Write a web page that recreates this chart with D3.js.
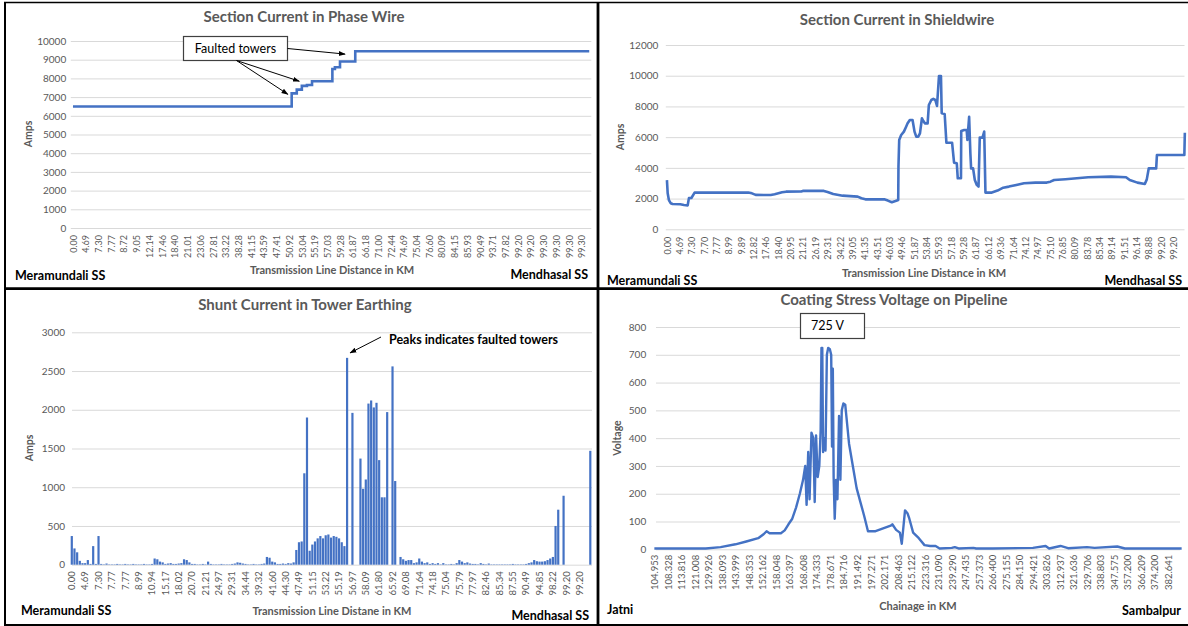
<!DOCTYPE html>
<html>
<head>
<meta charset="utf-8">
<script src="https://cdn.jsdelivr.net/npm/d3@7"></script>
<style>
  html, body { margin: 0; padding: 0; background: #ffffff; }
  svg { display: block; font-family: Lato, "Open Sans", "Liberation Sans", sans-serif; }
</style>
</head>
<body>
<svg id="fig" width="1188" height="626"></svg>
<script>
// ---------------- data ----------------
// Section current in phase wire: step breakpoints [tower index, amps]
const phaseTicks = ["0.00","4.69","7.30","7.77","8.72","9.05","12.14","17.46","18.40","21.01","23.06","27.81","33.22","38.28","41.15","43.59","47.41","50.92","53.04","55.19","57.03","59.28","61.87","66.18","71.00","72.44","74.69","75.04","76.60","80.09","84.15","85.93","90.49","93.71","97.82","99.20","99.20","99.30","99.30","99.30","99.30"];
const phaseSteps = [[0,6500],[86,7200],[88,7400],[90,7600],[92,7650],[94,7850],[102,8500],[103,8600],[105,8900],[111,9450],[203,9450]];

// Section current in shieldwire: [tower index, amps]
const shieldTicks = ["0.00","4.69","7.30","7.70","7.77","8.99","9.89","12.82","17.46","18.40","20.95","21.21","26.19","29.31","34.22","39.05","41.35","43.51","46.03","49.46","51.87","53.84","55.93","57.18","59.28","61.87","66.12","69.36","71.64","74.12","74.97","75.10","76.85","80.09","83.78","85.34","89.14","91.51","96.14","98.88","99.20","99.20"];
const shieldAmps = [[0,3200],[0.3,2350],[0.8,1900],[1.5,1700],[2.3,1650],[5.4,1630],[6.9,1580],[8.4,1560],[8.9,2030],[9.9,2040],[11.2,2390],[32.9,2400],[34.4,2340],[35.9,2240],[42,2230],[43.6,2280],[46.6,2410],[48.2,2450],[54.3,2460],[55,2500],[63.5,2500],[65,2430],[67.3,2300],[71.1,2190],[77.2,2130],[78.7,2020],[80.3,1950],[87.9,1950],[89.4,1870],[91,1760],[92.5,1840],[93.6,1910],[93.7,4080],[94,5820],[94.8,6140],[95.9,6360],[96.8,6680],[97.4,6900],[98.3,7120],[99.4,7120],[100.2,6360],[100.9,6030],[101.7,6030],[102.4,6250],[103.2,7230],[103.7,7070],[104.4,6900],[105.5,6900],[106,8090],[107,8420],[107.8,8490],[108.6,8420],[109.3,8030],[110.1,9980],[110.9,9980],[111.2,7550],[112.4,7510],[113.1,5640],[115.4,5640],[116.2,4340],[117.3,4300],[117.7,3320],[119,3320],[119.1,6400],[120.3,6470],[121.3,6470],[121.6,5820],[122.3,7330],[122.8,4950],[123.1,3970],[123.9,3970],[124.6,3210],[125.4,2890],[126.1,2780],[126.6,5970],[127.7,5970],[128.4,6360],[128.9,2390],[131.5,2390],[133.8,2520],[136.1,2710],[138.4,2780],[141.4,2890],[144.5,3000],[149.1,3040],[153.7,3040],[155.2,3100],[156.7,3210],[161.3,3260],[165.9,3320],[170.5,3390],[179.7,3430],[185.8,3390],[187.3,3210],[190.4,3040],[193.4,2950],[194.2,3250],[195,3970],[198,3970],[198.3,4840],[209.4,4840],[209.6,6290]];

// Shunt current in tower earthing: one value per tower (amps)
const shuntTicks = ["0.00","4.69","7.30","7.77","7.77","8.99","10.94","15.17","18.02","20.70","21.21","24.97","29.31","34.44","39.32","41.60","44.30","47.49","51.15","53.22","55.19","56.97","58.09","61.80","65.92","69.08","71.64","74.18","75.04","75.79","77.97","82.46","85.34","87.55","90.49","94.85","98.22","99.20","99.20"];
const shuntAmps = [
  370,210,160,50,20,20,60,10,240,10, 370,10,5,15,5,5,5,10,5,5,
  10,5,5,10,5,5,5,10,5,5, 10,80,70,40,30,10,15,20,10,10,
  15,20,70,60,30,10,10,5,5,10, 5,40,10,5,5,5,10,5,5,5,
  10,15,30,25,15,10,5,5,10,5, 5,10,15,100,90,40,30,10,10,15,
  10,20,15,30,190,290,300,1180,1900,180, 260,300,340,370,340,380,390,350,370,360,
  340,290,240,2670,0,1960,0,0,1370,980, 1100,2080,2120,2030,2090,1350,870,870,1970,0,
  2560,1080,0,100,70,50,60,60,20,30, 80,40,20,30,10,20,10,20,5,20,
  5,5,10,5,20,60,40,20,30,15, 10,10,5,20,10,5,15,5,5,5,
  5,5,5,5,5,10,5,5,5,5, 10,20,30,60,45,40,40,45,60,80,
  100,500,710,0,890,0,0,0,0,0, 0,0,0,0,1470
];

// Coating stress voltage on pipeline: [chainage index, volts]
const pipeTicks = ["104.953","108.328","113.816","121.008","129.926","138.093","143.999","148.353","152.162","158.048","163.397","168.608","174.333","178.671","184.716","191.492","197.271","202.171","208.463","215.122","223.316","231.090","239.290","247.435","257.373","266.400","275.155","284.150","294.421","303.826","312.937","321.636","329.706","338.803","347.575","357.200","366.209","374.200","382.641"];
const pipeVolts = [[0,3],[19,3],[24.5,8],[30,18],[34,28],[38.4,40],[40.5,55],[41.5,65],[42.6,58],[46.8,58],[48.2,68],[49.6,90],[51,110],[52.4,150],[53.8,200],[55,250],[55.8,300],[56.3,160],[56.9,350],[57.4,180],[58.1,420],[58.8,400],[59.3,170],[59.8,410],[60.4,260],[61,300],[61.5,430],[61.8,725],[62.1,725],[62.4,350],[62.9,400],[63.3,355],[63.8,700],[64.3,725],[64.9,720],[65.4,700],[65.7,370],[66,650],[66.3,260],[66.7,110],[67.2,250],[67.7,180],[68.3,480],[68.8,250],[69.3,500],[69.9,525],[70.6,520],[71.3,450],[72,380],[73.4,300],[74.8,220],[76.2,170],[77.6,120],[79,65],[81.8,65],[84.6,75],[87.4,85],[88,90],[89.4,70],[90.8,60],[91.5,20],[92.7,140],[93.6,130],[94.3,110],[95.7,60],[97.8,40],[99.9,15],[102,12],[104,12],[105.5,3],[110,5],[111.1,8],[112.5,3],[118,5],[119,3],[125,3],[140,5],[144.7,12],[146,3],[150.2,12],[153,4],[160,8],[162.8,5],[171.2,10],[174,3],[195,3]];

// ---------------- styling ----------------
const BLUE = "#4472C4";
const GRID = "#d9d9d9";
const GREY = "#595959";
const LABEL_EVERY = 5;

const svg = d3.select("#fig");

const defs = svg.append("defs");
defs.append("marker")
  .attr("id", "arrowhead")
  .attr("viewBox", "0 0 10 10")
  .attr("refX", 9).attr("refY", 5)
  .attr("markerWidth", 7).attr("markerHeight", 7)
  .attr("orient", "auto-start-reverse")
  .append("path").attr("d", "M0,1.5 L10,5 L0,8.5 Z").attr("fill", "#000");

// Draws the shared furniture of one chart panel and returns its scales.
function panel(o) {
  const g = svg.append("g");

  const x = o.band
    ? d3.scaleBand().domain(d3.range(o.n)).range([o.left, o.right]).paddingInner(0.18)
    : d3.scaleLinear().domain([-0.5, o.n - 0.5]).range([o.left, o.right]);
  const y = d3.scaleLinear().domain([0, o.yMax]).range([o.y0, o.y1]);

  // value axis with horizontal gridlines
  const yAxis = d3.axisLeft(y)
    .tickValues(d3.range(0, o.yMax + 1, o.yStep))
    .tickSize(-(o.gridR - o.gridL))
    .tickPadding(o.yPad)
    .tickFormat(d3.format("d"));
  const ya = g.append("g").attr("transform", `translate(${o.gridL},0)`).call(yAxis);
  ya.select(".domain").remove();
  ya.selectAll(".tick line").attr("stroke", GRID).attr("stroke-width", 1);
  ya.selectAll(".tick text").attr("fill", GREY).attr("font-size", o.yFont).attr("font-family", "Lato, sans-serif");

  // category axis, one label every few towers, rotated
  const xAxis = d3.axisBottom(x)
    .tickValues(d3.range(o.ticks.length).map(i => i * LABEL_EVERY))
    .tickFormat(v => o.ticks[v / LABEL_EVERY])
    .tickSize(0);
  const xa = g.append("g").attr("transform", `translate(0,${o.y0})`).call(xAxis);
  xa.select(".domain").remove();
  xa.selectAll(".tick text")
    .attr("transform", "rotate(-90)")
    .attr("text-anchor", "end")
    .attr("x", -o.xGap).attr("y", 0).attr("dy", "0.35em")
    .attr("fill", GREY).attr("font-size", o.xFont).attr("font-family", "Lato, sans-serif");

  // titles
  g.append("text").attr("x", o.titleX).attr("y", o.titleY).attr("dy", "0.35em")
    .attr("text-anchor", "middle").attr("font-size", 15).attr("font-weight", 700)
    .attr("fill", GREY).text(o.title);
  g.append("text").attr("transform", `translate(${o.yTitleX},${o.yTitleY}) rotate(-90)`)
    .attr("dy", "0.35em").attr("text-anchor", "middle").attr("font-size", 10.5)
    .attr("font-weight", 700).attr("fill", GREY).text(o.yTitle);
  g.append("text").attr("x", o.xTitleX).attr("y", o.xTitleY).attr("dy", "0.35em")
    .attr("text-anchor", "middle").attr("font-size", 11).attr("font-weight", 700)
    .attr("fill", GREY).text(o.xTitle);

  // end-point names
  g.append("text").attr("x", o.startX).attr("y", o.startY).attr("dy", "0.35em")
    .attr("font-size", 12.5).attr("font-weight", 700).attr("fill", "#000").text(o.start);
  g.append("text").attr("x", o.endX).attr("y", o.endY).attr("dy", "0.35em")
    .attr("text-anchor", "end").attr("font-size", 12.5).attr("font-weight", 700)
    .attr("fill", "#000").text(o.end);

  return { g, x, y };
}

// ---------------- top left: phase wire ----------------
{
  const p = panel({
    n: 204, left: 71.7, right: 590.5, gridL: 70.8, gridR: 591.3,
    y0: 228, y1: 41, yMax: 10000, yStep: 1000, yPad: 4.6, yFont: 10,
    ticks: phaseTicks, xGap: 7, xFont: 9,
    title: "Section Current in Phase Wire", titleX: 304, titleY: 17,
    yTitle: "Amps", yTitleX: 28, yTitleY: 134,
    xTitle: "Transmission Line Distance in KM", xTitleX: 332, xTitleY: 270,
    start: "Meramundali SS", startX: 15, startY: 276,
    end: "Mendhasal SS", endX: 588, endY: 275
  });
  const line = d3.line().x(d => p.x(d[0])).y(d => p.y(d[1])).curve(d3.curveStepAfter);
  p.g.append("path").datum(phaseSteps).attr("d", line)
    .attr("fill", "none").attr("stroke", BLUE).attr("stroke-width", 2.6);

  // callout pointing at the faulted-tower steps
  const bx = 183.5, by = 36.5, bw = 104, bh = 24;
  p.g.append("rect").attr("x", bx).attr("y", by).attr("width", bw).attr("height", bh)
    .attr("fill", "#fff").attr("stroke", "#404040").attr("stroke-width", 1.2);
  p.g.append("text").attr("x", bx + bw / 2).attr("y", by + bh / 2).attr("dy", "0.35em")
    .attr("text-anchor", "middle").attr("font-size", 12.5).attr("fill", "#000").text("Faulted towers");
  const targets = [[84.5, 7150, bx + 53, by + bh], [89, 7850, bx + 53, by + bh], [107, 9300, bx + bw, by + 12]];
  targets.forEach(([c, v, sx, sy]) => {
    p.g.append("line").attr("x1", sx).attr("y1", sy).attr("x2", p.x(c)).attr("y2", p.y(v))
      .attr("stroke", "#000").attr("stroke-width", 1).attr("marker-end", "url(#arrowhead)");
  });
}

// ---------------- top right: shieldwire ----------------
{
  const p = panel({
    n: 210, left: 665.7, right: 1184.6, gridL: 665.8, gridR: 1184.5,
    y0: 229.3, y1: 45, yMax: 12000, yStep: 2000, yPad: 7.5, yFont: 10,
    ticks: shieldTicks, xGap: 7.5, xFont: 9,
    title: "Section Current in Shieldwire", titleX: 897, titleY: 20,
    yTitle: "Amps", yTitleX: 620, yTitleY: 137,
    xTitle: "Transmission Line Distance in KM", xTitleX: 924, xTitleY: 273,
    start: "Meramundali SS", startX: 607, startY: 281,
    end: "Mendhasal SS", endX: 1182, endY: 281
  });
  const line = d3.line().x(d => p.x(d[0])).y(d => p.y(d[1]));
  p.g.append("path").datum(shieldAmps).attr("d", line)
    .attr("fill", "none").attr("stroke", BLUE).attr("stroke-width", 2.6)
    .attr("stroke-linejoin", "round");
}

// ---------------- bottom left: tower earthing ----------------
{
  const p = panel({
    band: true, n: shuntAmps.length, left: 70.7, right: 591.4, gridL: 72, gridR: 592,
    y0: 564.7, y1: 332.3, yMax: 3000, yStep: 500, yPad: 7, yFont: 10,
    ticks: shuntTicks, xGap: 6.5, xFont: 9.5,
    title: "Shunt Current in Tower Earthing", titleX: 305, titleY: 305,
    yTitle: "Amps", yTitleX: 29, yTitleY: 448,
    xTitle: "Transmission Line Distane in KM", xTitleX: 332, xTitleY: 611,
    start: "Meramundali SS", startX: 21, startY: 611,
    end: "Mendhasal SS", endX: 589, endY: 616
  });
  p.g.append("g").selectAll("rect").data(shuntAmps).join("rect")
    .attr("x", (d, i) => p.x(i)).attr("width", p.x.bandwidth())
    .attr("y", d => p.y(d)).attr("height", d => p.y(0) - p.y(d))
    .attr("fill", BLUE);

  const peak = d3.maxIndex(shuntAmps);
  p.g.append("line")
    .attr("x1", 381).attr("y1", 337)
    .attr("x2", p.x(peak) + p.x.bandwidth() / 2 + 3).attr("y2", p.y(shuntAmps[peak]) - 5)
    .attr("stroke", "#000").attr("stroke-width", 1).attr("marker-end", "url(#arrowhead)");
  p.g.append("text").attr("x", 389).attr("y", 340).attr("dy", "0.35em")
    .attr("font-size", 12.5).attr("font-weight", 700).attr("fill", "#000")
    .text("Peaks indicates faulted towers");
}

// ---------------- bottom right: pipeline ----------------
{
  const p = panel({
    n: 196, left: 653, right: 1183, gridL: 656, gridR: 1180,
    y0: 549.3, y1: 327, yMax: 800, yStep: 100, yPad: 9.8, yFont: 10,
    ticks: pipeTicks, xGap: 5.5, xFont: 9.5,
    title: "Coating Stress Voltage on Pipeline", titleX: 894, titleY: 300,
    yTitle: "Voltage", yTitleX: 617, yTitleY: 438,
    xTitle: "Chainage in KM", xTitleX: 918, xTitleY: 606,
    start: "Jatni", startX: 607, startY: 610,
    end: "Sambalpur", endX: 1181, endY: 611
  });
  const line = d3.line().x(d => p.x(d[0])).y(d => p.y(d[1]));
  p.g.append("path").datum(pipeVolts).attr("d", line)
    .attr("fill", "none").attr("stroke", BLUE).attr("stroke-width", 2.4)
    .attr("stroke-linejoin", "round");

  const peakV = d3.max(pipeVolts, d => d[1]);
  p.g.append("rect").attr("x", 800.5).attr("y", 313.5).attr("width", 64).attr("height", 25)
    .attr("fill", "#fff").attr("stroke", "#404040").attr("stroke-width", 1.2);
  p.g.append("text").attr("x", 811).attr("y", 326).attr("dy", "0.35em")
    .attr("font-size", 12.5).attr("fill", "#000").text(`${peakV} V`);
}

// ---------------- panel frames ----------------
const frame = svg.append("g").attr("stroke", "#000").attr("fill", "none");
frame.append("line").attr("x1", 4).attr("x2", 1188).attr("y1", 2.5).attr("y2", 2.5).attr("stroke-width", 1.6);
frame.append("line").attr("x1", 4).attr("x2", 1188).attr("y1", 288.7).attr("y2", 288.7).attr("stroke-width", 2.8);
frame.append("line").attr("x1", 4).attr("x2", 1188).attr("y1", 625).attr("y2", 625).attr("stroke-width", 2);
frame.append("line").attr("x1", 5).attr("x2", 5).attr("y1", 2).attr("y2", 626).attr("stroke-width", 2);
frame.append("line").attr("x1", 598).attr("x2", 598).attr("y1", 2).attr("y2", 626).attr("stroke-width", 2.8);
</script>
</body>
</html>
